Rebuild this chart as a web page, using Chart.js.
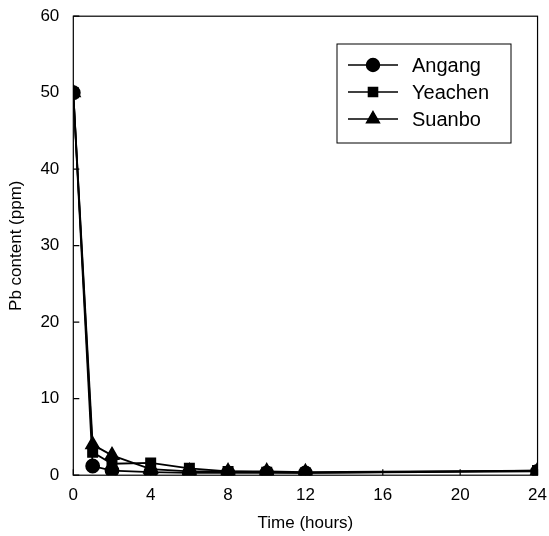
<!DOCTYPE html>
<html>
<head>
<meta charset="utf-8">
<script src="https://cdn.jsdelivr.net/npm/chart.js@4"></script>
<style>
  body { margin: 0; background: #fff; }
  #wrap { width: 549px; height: 536px; }
</style>
</head>
<body>
<div id="wrap"><canvas id="pbChart" width="549" height="536"></canvas></div>
<script>
const hours = [0, 1, 2, 4, 6, 8, 10, 12, 24];
const angang = [50, 1.2, 0.6, 0.4, 0.3, 0.3, 0.3, 0.3, 0.5];
const yeachen = [50, 3.0, 1.5, 1.6, 0.9, 0.5, 0.4, 0.3, 0.6];
const suanbo = [50, 4.0, 2.6, 0.8, 0.5, 0.5, 0.5, 0.4, 0.6];
const seriesNames = ['Angang', 'Yeachen', 'Suanbo'];
const markers = ['circle', 'rect', 'triangle'];

const font = 'Liberation Sans, Arial, sans-serif';

function toPoints(vals) {
    return hours.map((h, i) => ({ x: h, y: vals[i] }));
}

function makeSet(label, vals, shape) {
    return {
        label: label,
        data: toPoints(vals),
        borderColor: '#000',
        backgroundColor: '#000',
        borderWidth: 1.8,
        pointStyle: shape,
        pointRadius: shape === 'triangle' ? 7.5 : 6.5,
        tension: 0
    };
}

// box around plot + inward ticks
const framePlugin = {
    id: 'frame',
    afterDraw(chart) {
        const ctx = chart.ctx;
        const a = chart.chartArea;
        const xs = chart.scales.x, ys = chart.scales.y;
        ctx.save();
        ctx.strokeStyle = '#000';
        ctx.lineWidth = 1.2;
        ctx.strokeRect(a.left, a.top, a.right - a.left, a.bottom - a.top);
        ctx.beginPath();
        xs.ticks.forEach(t => {
            const px = xs.getPixelForValue(t.value);
            ctx.moveTo(px, a.bottom);
            ctx.lineTo(px, a.bottom - 6);
        });
        ys.ticks.forEach(t => {
            const py = ys.getPixelForValue(t.value);
            ctx.moveTo(a.left, py);
            ctx.lineTo(a.left + 6, py);
        });
        ctx.stroke();
        ctx.restore();
    }
};

// legend box inside the plot, top right
const legendPlugin = {
    id: 'boxLegend',
    afterDraw(chart) {
        const ctx = chart.ctx;
        const bx = 337, by = 44, bw = 174, bh = 99;
        ctx.save();
        ctx.fillStyle = '#fff';
        ctx.fillRect(bx, by, bw, bh);
        ctx.strokeStyle = '#000';
        ctx.lineWidth = 1;
        ctx.strokeRect(bx, by, bw, bh);
        ctx.font = '20px ' + font;
        ctx.textBaseline = 'middle';
        chart.data.datasets.forEach((ds, i) => {
            const y = by + 21 + i * 27;
            ctx.fillStyle = '#000';
            ctx.beginPath();
            ctx.moveTo(bx + 11, y);
            ctx.lineTo(bx + 61, y);
            ctx.lineWidth = 1.4;
            ctx.stroke();
            Chart.helpers.drawPoint(ctx, {
                pointStyle: ds.pointStyle,
                radius: ds.pointRadius,
                borderWidth: 1
            }, bx + 36, y);
            ctx.fill();
            ctx.fillText(ds.label, bx + 75, y + 1);
        });
        ctx.restore();
    }
};

new Chart(document.getElementById('pbChart'), {
    type: 'line',
    data: {
        datasets: [
            makeSet(seriesNames[0], angang, markers[0]),
            makeSet(seriesNames[1], yeachen, markers[1]),
            makeSet(seriesNames[2], suanbo, markers[2])
        ]
    },
    options: {
        responsive: false,
        animation: false,
        layout: { padding: { top: 10, right: 10, left: 6, bottom: 2 } },
        plugins: { legend: { display: false }, tooltip: { enabled: false } },
        scales: {
            x: {
                type: 'linear',
                min: 0, max: 24,
                ticks: { stepSize: 4, color: '#000', font: { family: font, size: 17 }, padding: 2 },
                grid: { display: false },
                border: { display: false },
                title: { display: true, text: 'Time (hours)', color: '#000', font: { family: font, size: 17 }, padding: { top: 6, bottom: 0 } }
            },
            y: {
                min: 0, max: 60,
                ticks: { stepSize: 10, color: '#000', font: { family: font, size: 17 }, padding: 6 },
                grid: { display: false },
                border: { display: false },
                title: { display: true, text: 'Pb content (ppm)', color: '#000', font: { family: font, size: 17 }, padding: { top: 0, bottom: 8 } }
            }
        }
    },
    plugins: [framePlugin, legendPlugin]
});
</script>
</body>
</html>
